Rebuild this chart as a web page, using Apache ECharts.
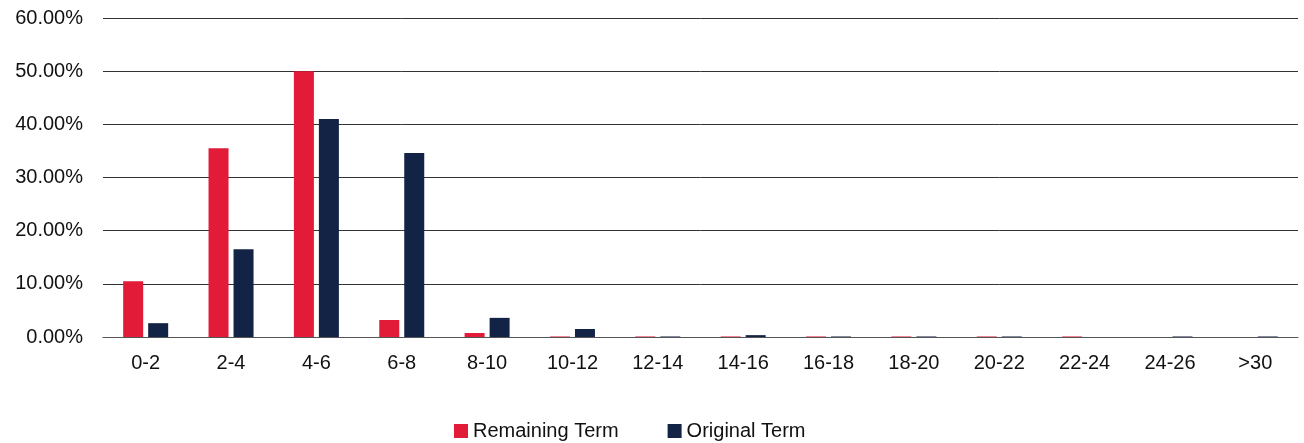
<!DOCTYPE html>
<html>
<head>
<meta charset="utf-8">
<style>
  html, body { margin: 0; padding: 0; background: #fff; }
  #chart { width: 1304px; height: 443px; }
</style>
<script src="https://cdn.jsdelivr.net/npm/echarts@6/dist/echarts.min.js"></script>
</head>
<body>
<div id="chart"></div>
<script>
// Term buckets (years) and share of pool in each bucket, in percent
const categories = ['0-2', '2-4', '4-6', '6-8', '8-10', '10-12', '12-14', '14-16', '16-18', '18-20', '20-22', '22-24', '24-26', '>30'];
const remainingTerm = [10.5, 35.5, 50.0, 3.2, 0.75, 0.1, 0.1, 0.1, 0.1, 0.1, 0.1, 0.1, 0, 0];
const originalTerm = [2.6, 16.5, 41.0, 34.6, 3.6, 1.5, 0.1, 0.35, 0.1, 0.1, 0.1, 0, 0.1, 0.1];
const yTicks = { min: 0, max: 60, interval: 10 };

const FONT = '"Liberation Sans", Arial, Helvetica, sans-serif';
const RED = '#E11B38';
const NAVY = '#132346';

const chart = echarts.init(document.getElementById('chart'), null, { renderer: 'canvas' });
chart.setOption({
  animation: false,
  textStyle: { fontFamily: FONT, color: '#111' },
  grid: { left: 103, right: 6, top: 18, bottom: 106, containLabel: false },
  legend: {
    data: ['Remaining Term', 'Original Term'],
    left: 454,
    top: 421,
    padding: 0,
    itemWidth: 14,
    itemHeight: 14,
    itemGap: 49,
    icon: 'rect',
    textStyle: { fontFamily: FONT, fontSize: 20, color: '#111' }
  },
  xAxis: {
    type: 'category',
    data: categories,
    axisLine: { show: true, lineStyle: { color: '#555', width: 1 } },
    axisTick: { show: false },
    axisLabel: { fontFamily: FONT, fontSize: 20, color: '#111', margin: 16 }
  },
  yAxis: {
    type: 'value',
    min: yTicks.min,
    max: yTicks.max,
    interval: yTicks.interval,
    axisLine: { show: false },
    axisTick: { show: false },
    splitLine: { lineStyle: { color: '#333', width: 1 } },
    axisLabel: {
      fontFamily: FONT, fontSize: 20, color: '#111', margin: 20,
      formatter: v => v.toFixed(2) + '%'
    }
  },
  series: [
    {
      name: 'Remaining Term',
      type: 'bar',
      data: remainingTerm,
      itemStyle: { color: RED },
      barWidth: 20,
      barGap: '25%'
    },
    {
      name: 'Original Term',
      type: 'bar',
      data: originalTerm,
      itemStyle: { color: NAVY },
      barWidth: 20,
      barGap: '25%'
    }
  ]
});
</script>
</body>
</html>
